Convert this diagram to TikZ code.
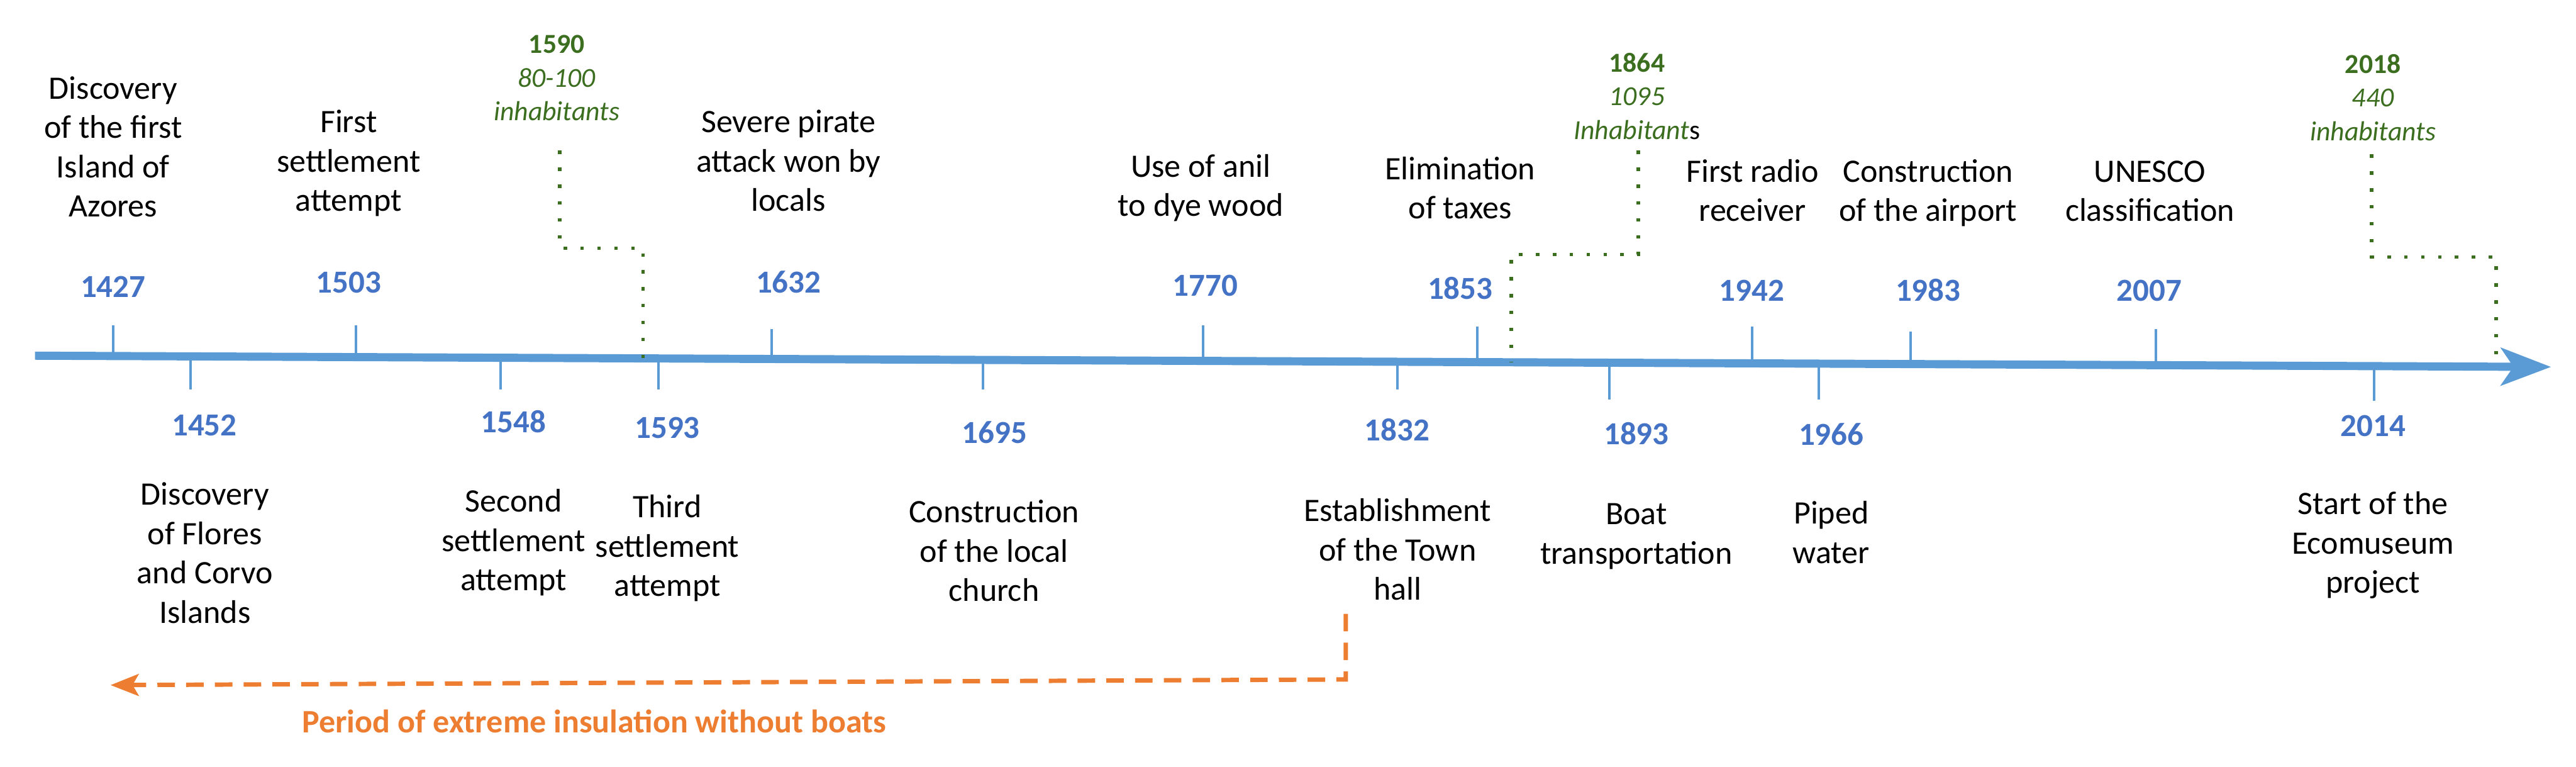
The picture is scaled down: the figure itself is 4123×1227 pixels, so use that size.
\documentclass[tikz,border=0pt]{standalone}
\usepackage{fontspec}
\setmainfont{Carlito}
\usetikzlibrary{arrows.meta}
\definecolor{lineblue}{HTML}{5B9BD5}
\definecolor{yearblue}{HTML}{4472C4}
\definecolor{popgreen}{HTML}{3C6E1F}
\definecolor{isoorange}{HTML}{ED7D31}
\tikzset{
  evt/.style={font=\fontsize{14.9}{17.9}\selectfont, align=center, inner sep=0pt, anchor=base},
  yr/.style={font=\fontsize{14.6}{17.5}\selectfont\bfseries, text=yearblue, inner sep=0pt, anchor=base},
  pop/.style={font=\fontsize{12.5}{15.36}\selectfont, text=popgreen, align=center, inner sep=0pt, anchor=base},
  mainline/.style={draw=lineblue, line width=0.13cm, -{Stealth[length=0.8cm, width=0.6cm, inset=0.2cm]}},
  tickmark/.style={draw=lineblue, line width=0.04cm},
  popline/.style={draw=popgreen, line width=0.055cm, dash pattern=on 0.055cm off 0.215cm},
  isoline/.style={draw=isoorange, line width=0.07cm, dash pattern=on 0.28cm off 0.18cm, -{Stealth[length=0.45cm, width=0.35cm, inset=0.1cm]}},
  isolabel/.style={font=\fontsize{14.9}{17.9}\selectfont\bfseries, text=isoorange, inner sep=0pt, anchor=base}
}
\begin{document}
\begin{tikzpicture}[x=0.01cm, y=-0.01cm]
\useasboundingbox (0,0) rectangle (4123,1227);

% main timeline
\coordinate (tlstart) at (56,569);
\coordinate (tlend) at (4083,587);
\draw[mainline] (tlstart) -- (tlend);

% upper ticks
\draw[tickmark] (181,570) -- (181,520);
\draw[tickmark] (570,571) -- (570,520);
\draw[tickmark] (1235,574) -- (1235,526);
\draw[tickmark] (1926,577) -- (1926,520);
\draw[tickmark] (2364,579) -- (2364,522);
\draw[tickmark] (2804,581) -- (2804,522);
\draw[tickmark] (3058,582) -- (3058,530);
\draw[tickmark] (3451,584) -- (3451,526);
% lower ticks
\draw[tickmark] (305,570) -- (305,623);
\draw[tickmark] (801,572) -- (801,623);
\draw[tickmark] (1054,573) -- (1054,623);
\draw[tickmark] (1573,576) -- (1573,623);
\draw[tickmark] (2237,579) -- (2237,623);
\draw[tickmark] (2576,580) -- (2576,639);
\draw[tickmark] (2911,582) -- (2911,639);
\draw[tickmark] (3800,586) -- (3800,641);

% upper years
\node[yr] (y1427) at (181,476) {1427};
\node[yr] (y1503) at (558,469) {1503};
\node[yr] (y1632) at (1262,469) {1632};
\node[yr] (y1770) at (1929,474) {1770};
\node[yr] (y1853) at (2337,479) {1853};
\node[yr] (y1942) at (2804,482) {1942};
\node[yr] (y1983) at (3086,482) {1983};
\node[yr] (y2007) at (3440,482) {2007};
% lower years
\node[yr] (y1452) at (327,697) {1452};
\node[yr] (y1548) at (822,692) {1548};
\node[yr] (y1593) at (1068,701) {1593};
\node[yr] (y1695) at (1592,709) {1695};
\node[yr] (y1832) at (2236,705) {1832};
\node[yr] (y1893) at (2619,711) {1893};
\node[yr] (y1966) at (2931,712) {1966};
\node[yr] (y2014) at (3798,698) {2014};

% upper events (anchor = baseline of last line)
\node[evt] (e1427) at (181,347) {Discovery\\of the first\\Island of\\Azores};
\node[evt] (e1503) at (558,338) {First\\settlement\\attempt};
\node[evt] (e1632) at (1262,338) {Severe pirate\\attack won by\\locals};
\node[evt] (e1770) at (1922,346) {Use of anil\\to dye wood};
\node[evt] (e1853) at (2337,350) {Elimination\\of taxes};
\node[evt] (e1942) at (2805,354) {First radio\\receiver};
\node[evt] (e1983) at (3086,354) {Construction\\of the airport};
\node[evt] (e2007) at (3441,354) {UNESCO\\classification};
% lower events
\node[evt] (e1452) at (328,997) {Discovery\\of Flores\\and Corvo\\Islands};
\node[evt] (e1548) at (822,945) {Second\\settlement\\attempt};
\node[evt] (e1593) at (1068,954) {Third\\settlement\\attempt};
\node[evt] (e1695) at (1591,962) {Construction\\of the local\\church};
\node[evt] (e1832) at (2237,960) {Establishment\\of the Town\\hall};
\node[evt] (e1893) at (2619,902) {Boat\\transportation};
\node[evt] (e1966) at (2931,901) {Piped\\water};
\node[evt] (e2014) at (3798,949) {Start of the\\Ecomuseum\\project};

% population notes
\node[pop] (p1590) at (891,193) {\textbf{1590}\\\textit{80-100}\\\textit{inhabitants}};
\node[pop] (p1864) at (2620,223) {\textbf{1864}\\\textit{1095}\\\textit{Inhabitant}{\color{black}s}};
\node[pop] (p2018) at (3798,225) {\textbf{2018}\\\textit{440}\\\textit{inhabitants}};

\coordinate (a1590) at (896,241);
\coordinate (b1590) at (1029,574);
\draw[popline] (a1590) |- (1029,397) -- (b1590);
\coordinate (a1864) at (2622,241);
\coordinate (b1864) at (2419,579);
\draw[popline] (a1864) |- (2419,407) -- (b1864);
\coordinate (a2018) at (3796,247);
\coordinate (b2018) at (3995,587);
\draw[popline] (a2018) |- (3995,411) -- (b2018);

% isolation period
\coordinate (isostart) at (2154,982);
\coordinate (isoend) at (177,1096);
\draw[isoline] (isostart) -- (2154,1087) -- (isoend);
\node[isolabel] (isotext) at (951,1172) {Period of extreme insulation without boats};
\end{tikzpicture}
\end{document}
